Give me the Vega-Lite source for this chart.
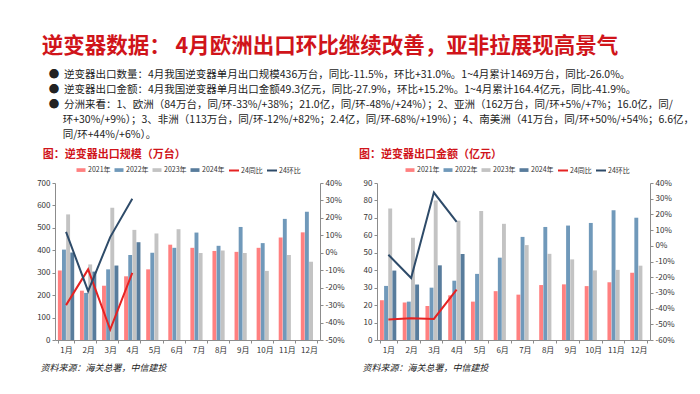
{
  "$schema": "https://vega.github.io/schema/vega-lite/v6.json",
  "background": "white",
  "padding": {"left": 36, "top": 36, "right": 10, "bottom": 5},
  "config": {
    "font": "Noto Sans CJK SC",
    "view": {"stroke": null},
    "axis": {"labelFont": "Noto Sans CJK SC", "labelFontSize": 8, "labelColor": "#333333", "domainColor": "#8c8c8c", "tickColor": "#8c8c8c", "tickSize": 3, "grid": false},
    "legend": {"labelFont": "Noto Sans CJK SC"}
  },
  "title": {
    "text": "逆变器数据： 4月欧洲出口环比继续改善，亚非拉展现高景气",
    "subtitle": [
      "\u200b\u00a0\u00a0\u00a0●\u00a0\u00a0逆变器出口数量：4月我国逆变器单月出口规模436万台，同比-11.5%，环比+31.0%。1~4月累计1469万台，同比-26.0%。",
      "\u200b\u00a0\u00a0\u00a0●\u00a0\u00a0逆变器出口金额：4月我国逆变器单月出口金额49.3亿元，同比-27.9%，环比+15.2%。1~4月累计164.4亿元，同比-41.9%。",
      "\u200b\u00a0\u00a0\u00a0●\u00a0\u00a0分洲来看：1、欧洲（84万台，同/环-33%/+38%；21.0亿，同/环-48%/+24%）；2、亚洲（162万台，同/环+5%/+7%；16.0亿，同/",
      "\u200b\u3000\u3000环+30%/+9%）；3、非洲（113万台，同/环-12%/+82%；2.4亿，同/环-68%/+19%）；4、南美洲（41万台，同/环+50%/+54%；6.6亿，",
      "\u200b\u3000\u3000同/环+44%/+6%）。"
    ],
    "anchor": "start",
    "dx": 5,
    "font": "Noto Sans CJK SC",
    "fontSize": 21.5,
    "fontWeight": "bold",
    "color": "#D0141A",
    "subtitleFont": "Noto Sans CJK SC",
    "subtitleFontSize": 10.5,
    "subtitleColor": "#222222",
    "subtitleLineHeight": 15,
    "subtitlePadding": 12,
    "offset": 9
  },
  "datasets": {
    "qty": [
      {"month": "1月", "series": "2021年", "value": 310}, {"month": "1月", "series": "2022年", "value": 403}, {"month": "1月", "series": "2023年", "value": 560}, {"month": "1月", "series": "2024年", "value": 390},
      {"month": "2月", "series": "2021年", "value": 220}, {"month": "2月", "series": "2022年", "value": 210}, {"month": "2月", "series": "2023年", "value": 337}, {"month": "2月", "series": "2024年", "value": 305},
      {"month": "3月", "series": "2021年", "value": 242}, {"month": "3月", "series": "2022年", "value": 315}, {"month": "3月", "series": "2023年", "value": 590}, {"month": "3月", "series": "2024年", "value": 332},
      {"month": "4月", "series": "2021年", "value": 284}, {"month": "4月", "series": "2022年", "value": 379}, {"month": "4月", "series": "2023年", "value": 491}, {"month": "4月", "series": "2024年", "value": 436},
      {"month": "5月", "series": "2021年", "value": 315}, {"month": "5月", "series": "2022年", "value": 389}, {"month": "5月", "series": "2023年", "value": 475},
      {"month": "6月", "series": "2021年", "value": 425}, {"month": "6月", "series": "2022年", "value": 411}, {"month": "6月", "series": "2023年", "value": 494},
      {"month": "7月", "series": "2021年", "value": 411}, {"month": "7月", "series": "2022年", "value": 479}, {"month": "7月", "series": "2023年", "value": 388},
      {"month": "8月", "series": "2021年", "value": 397}, {"month": "8月", "series": "2022年", "value": 420}, {"month": "8月", "series": "2023年", "value": 399},
      {"month": "9月", "series": "2021年", "value": 393}, {"month": "9月", "series": "2022年", "value": 504}, {"month": "9月", "series": "2023年", "value": 388},
      {"month": "10月", "series": "2021年", "value": 411}, {"month": "10月", "series": "2022年", "value": 432}, {"month": "10月", "series": "2023年", "value": 308},
      {"month": "11月", "series": "2021年", "value": 457}, {"month": "11月", "series": "2022年", "value": 540}, {"month": "11月", "series": "2023年", "value": 379},
      {"month": "12月", "series": "2021年", "value": 480}, {"month": "12月", "series": "2022年", "value": 572}, {"month": "12月", "series": "2023年", "value": 349}
    ],
    "qtyPct": [
      {"month": "1月", "series": "24同比", "pct": -0.30}, {"month": "2月", "series": "24同比", "pct": -0.095}, {"month": "3月", "series": "24同比", "pct": -0.44}, {"month": "4月", "series": "24同比", "pct": -0.115},
      {"month": "1月", "series": "24环比", "pct": 0.12}, {"month": "2月", "series": "24环比", "pct": -0.22}, {"month": "3月", "series": "24环比", "pct": 0.09}, {"month": "4月", "series": "24环比", "pct": 0.31}
    ],
    "amt": [
      {"month": "1月", "series": "2021年", "value": 22.8}, {"month": "1月", "series": "2022年", "value": 31}, {"month": "1月", "series": "2023年", "value": 75.4}, {"month": "1月", "series": "2024年", "value": 39.8},
      {"month": "2月", "series": "2021年", "value": 21.5}, {"month": "2月", "series": "2022年", "value": 22}, {"month": "2月", "series": "2023年", "value": 58.6}, {"month": "2月", "series": "2024年", "value": 31.8},
      {"month": "3月", "series": "2021年", "value": 19.5}, {"month": "3月", "series": "2022年", "value": 30}, {"month": "3月", "series": "2023年", "value": 80}, {"month": "3月", "series": "2024年", "value": 42.8},
      {"month": "4月", "series": "2021年", "value": 25.6}, {"month": "4月", "series": "2022年", "value": 34}, {"month": "4月", "series": "2023年", "value": 68.4}, {"month": "4月", "series": "2024年", "value": 49.3},
      {"month": "5月", "series": "2021年", "value": 22}, {"month": "5月", "series": "2022年", "value": 37.9}, {"month": "5月", "series": "2023年", "value": 73.9},
      {"month": "6月", "series": "2021年", "value": 28}, {"month": "6月", "series": "2022年", "value": 47.2}, {"month": "6月", "series": "2023年", "value": 66.6},
      {"month": "7月", "series": "2021年", "value": 26}, {"month": "7月", "series": "2022年", "value": 59.1}, {"month": "7月", "series": "2023年", "value": 54.4},
      {"month": "8月", "series": "2021年", "value": 31.5}, {"month": "8月", "series": "2022年", "value": 64.8}, {"month": "8月", "series": "2023年", "value": 49.4},
      {"month": "9月", "series": "2021年", "value": 31.9}, {"month": "9月", "series": "2022年", "value": 65.6}, {"month": "9月", "series": "2023年", "value": 46.2},
      {"month": "10月", "series": "2021年", "value": 30.9}, {"month": "10月", "series": "2022年", "value": 67.1}, {"month": "10月", "series": "2023年", "value": 39.9},
      {"month": "11月", "series": "2021年", "value": 33.1}, {"month": "11月", "series": "2022年", "value": 74.4}, {"month": "11月", "series": "2023年", "value": 40.2},
      {"month": "12月", "series": "2021年", "value": 38.5}, {"month": "12月", "series": "2022年", "value": 70.1}, {"month": "12月", "series": "2023年", "value": 42.6}
    ],
    "amtPct": [
      {"month": "1月", "series": "24同比", "pct": -0.469}, {"month": "2月", "series": "24同比", "pct": -0.462}, {"month": "3月", "series": "24同比", "pct": -0.466}, {"month": "4月", "series": "24同比", "pct": -0.279},
      {"month": "1月", "series": "24环比", "pct": -0.057}, {"month": "2月", "series": "24环比", "pct": -0.205}, {"month": "3月", "series": "24环比", "pct": 0.339}, {"month": "4月", "series": "24环比", "pct": 0.152}
    ]
  },
  "hconcat": [
    {
      "title": {"text": "图：逆变器出口规模（万台）", "anchor": "start", "dx": 6, "fontSize": 11, "fontWeight": "bold", "color": "#D0141A", "offset": 4},
      "width": 265,
      "height": 157,
      "layer": [
        {
          "data": {"name": "qty"},
          "mark": {"type": "bar"},
          "encoding": {
            "x": {"field": "month", "type": "nominal", "sort": ["1月","2月","3月","4月","5月","6月","7月","8月","9月","10月","11月","12月"], "scale": {"paddingInner": 0.26, "paddingOuter": 0.13},
              "axis": {"title": "资料来源：海关总署，中信建投", "titleFont": "Noto Sans CJK SC", "titleFontSize": 9, "titleFontStyle": "italic", "titleFontWeight": "normal", "titleColor": "#222222", "titleAnchor": "start", "titleAlign": "left", "titleBaseline": "middle", "titleX": -15, "titleY": 27, "labelAngle": 0, "tickBand": "extent", "labelPadding": 3}},
            "xOffset": {"field": "series", "type": "nominal", "scale": {"domain": ["2021年","2022年","2023年","2024年"], "paddingInner": 0.06}},
            "y": {"field": "value", "type": "quantitative", "scale": {"domain": [0, 700]}, "axis": {"title": null, "values": [0,100,200,300,400,500,600,700]}},
            "color": {"field": "series", "type": "nominal", "scale": {"domain": ["2021年","2022年","2023年","2024年","24同比","24环比"], "range": ["#FF8080","#7099BA","#C3C3C3","#587C9C","#E52222","#2E4B69"]},
              "legend": {"orient": "none", "legendX": 20, "legendY": -19, "direction": "horizontal", "title": null, "labelFontSize": 7, "labelColor": "#333333", "columnPadding": 0, "labelOffset": 1, "symbolSize": 100,
                "encode": {"symbols": {"update": {
                  "shape": {"signal": "datum.value === '24同比' || datum.value === '24环比' ? 'stroke' : 'M-0.7,-0.17H0.7V0.17H-0.7Z'"},
                  "fill": {"signal": "datum.value === '2021年' ? '#FF8080' : datum.value === '2022年' ? '#7099BA' : datum.value === '2023年' ? '#C3C3C3' : datum.value === '2024年' ? '#587C9C' : 'transparent'"},
                  "stroke": {"signal": "datum.value === '24同比' ? '#E52222' : datum.value === '24环比' ? '#2E4B69' : 'transparent'"},
                  "strokeWidth": {"value": 2},
                  "opacity": {"value": 1}
                }}}}}
          }
        },
        {
          "data": {"name": "qtyPct"},
          "mark": {"type": "line", "strokeWidth": 2},
          "encoding": {
            "x": {"field": "month", "type": "nominal", "sort": ["1月","2月","3月","4月","5月","6月","7月","8月","9月","10月","11月","12月"]},
            "y": {"field": "pct", "type": "quantitative", "scale": {"domain": [-0.5, 0.4]}, "axis": {"orient": "right", "title": null, "values": [-0.5,-0.4,-0.3,-0.2,-0.1,0,0.1,0.2,0.3,0.4], "labelExpr": "replace(format(datum.value, '.0%'), '\u2212', '-')"}},
            "color": {"field": "series", "type": "nominal", "scale": {"domain": ["2021年","2022年","2023年","2024年","24同比","24环比"], "range": ["#FF8080","#7099BA","#C3C3C3","#587C9C","#E52222","#2E4B69"]}}
          }
        }
      ],
      "resolve": {"scale": {"y": "independent"}}
    },
    {
      "title": {"text": "图：逆变器出口金额（亿元）", "anchor": "start", "dx": -3, "fontSize": 11, "fontWeight": "bold", "color": "#D0141A", "offset": 4},
      "width": 273,
      "height": 157,
      "layer": [
        {
          "data": {"name": "amt"},
          "mark": {"type": "bar"},
          "encoding": {
            "x": {"field": "month", "type": "nominal", "sort": ["1月","2月","3月","4月","5月","6月","7月","8月","9月","10月","11月","12月"], "scale": {"paddingInner": 0.26, "paddingOuter": 0.13},
              "axis": {"title": "资料来源：海关总署，中信建投", "titleFont": "Noto Sans CJK SC", "titleFontSize": 9, "titleFontStyle": "italic", "titleFontWeight": "normal", "titleColor": "#222222", "titleAnchor": "start", "titleAlign": "left", "titleBaseline": "middle", "titleX": -15, "titleY": 27, "labelAngle": 0, "tickBand": "extent", "labelPadding": 3}},
            "xOffset": {"field": "series", "type": "nominal", "scale": {"domain": ["2021年","2022年","2023年","2024年"], "paddingInner": 0.06}},
            "y": {"field": "value", "type": "quantitative", "scale": {"domain": [0, 90]}, "axis": {"title": null, "values": [0,10,20,30,40,50,60,70,80,90]}},
            "color": {"field": "series", "type": "nominal", "scale": {"domain": ["2021年","2022年","2023年","2024年","24同比","24环比"], "range": ["#FF8080","#7099BA","#C3C3C3","#587C9C","#E52222","#2E4B69"]},
              "legend": {"orient": "none", "legendX": 27, "legendY": -19, "direction": "horizontal", "title": null, "labelFontSize": 7, "labelColor": "#333333", "columnPadding": 0, "labelOffset": 1, "symbolSize": 100,
                "encode": {"symbols": {"update": {
                  "shape": {"signal": "datum.value === '24同比' || datum.value === '24环比' ? 'stroke' : 'M-0.7,-0.17H0.7V0.17H-0.7Z'"},
                  "fill": {"signal": "datum.value === '2021年' ? '#FF8080' : datum.value === '2022年' ? '#7099BA' : datum.value === '2023年' ? '#C3C3C3' : datum.value === '2024年' ? '#587C9C' : 'transparent'"},
                  "stroke": {"signal": "datum.value === '24同比' ? '#E52222' : datum.value === '24环比' ? '#2E4B69' : 'transparent'"},
                  "strokeWidth": {"value": 2},
                  "opacity": {"value": 1}
                }}}}}
          }
        },
        {
          "data": {"name": "amtPct"},
          "mark": {"type": "line", "strokeWidth": 2},
          "encoding": {
            "x": {"field": "month", "type": "nominal", "sort": ["1月","2月","3月","4月","5月","6月","7月","8月","9月","10月","11月","12月"]},
            "y": {"field": "pct", "type": "quantitative", "scale": {"domain": [-0.6, 0.4]}, "axis": {"orient": "right", "title": null, "values": [-0.6,-0.5,-0.4,-0.3,-0.2,-0.1,0,0.1,0.2,0.3,0.4], "labelExpr": "replace(format(datum.value, '.0%'), '\u2212', '-')"}},
            "color": {"field": "series", "type": "nominal", "scale": {"domain": ["2021年","2022年","2023年","2024年","24同比","24环比"], "range": ["#FF8080","#7099BA","#C3C3C3","#587C9C","#E52222","#2E4B69"]}}
          }
        }
      ],
      "resolve": {"scale": {"y": "independent"}}
    }
  ],
  "spacing": 14,
  "resolve": {"scale": {"color": "independent"}, "legend": {"color": "independent"}}
}
